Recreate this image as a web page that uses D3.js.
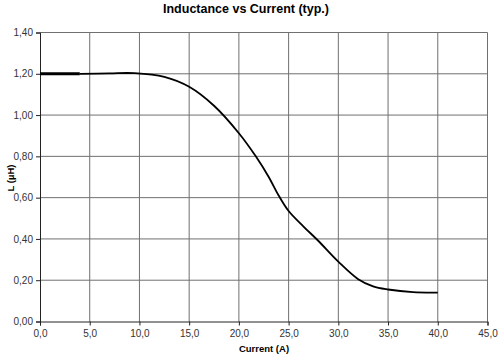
<!DOCTYPE html>
<html><head><meta charset="utf-8">
<script src="https://cdn.jsdelivr.net/npm/d3@7"></script>
<style>body{margin:0;background:#fff}svg{display:block;font-family:"Liberation Sans",Arial,sans-serif}</style>
</head><body><svg id="c" width="500" height="356"></svg>
<script>
const currentA = [4, 7, 9.5, 12.5, 15, 17.5, 20, 21.7, 23, 24, 25, 26.5, 28, 30, 32, 33.5, 35, 37.5, 40];
const inductance = [1.20, 1.202, 1.203, 1.185, 1.137, 1.045, 0.912, 0.80, 0.70, 0.61, 0.535, 0.46, 0.39, 0.29, 0.205, 0.17, 0.155, 0.142, 0.14];
const startCurrent = [0, 4];
const startInductance = [1.20, 1.20];
const xTicks = [0, 5, 10, 15, 20, 25, 30, 35, 40, 45];
const yTicks = [0, 0.2, 0.4, 0.6, 0.8, 1.0, 1.2, 1.4];

const svg = d3.select("#c");
const m = {l: 40, r: 487.5, t: 32.5, b: 321.5};
const x = d3.scaleLinear().domain([0, 45]).range([m.l, m.r]);
const y = d3.scaleLinear().domain([0, 1.4]).range([m.b, m.t]);
const fmt = d => d.toFixed(1).replace(".", ",");
const fmtY = d => d.toFixed(2).replace(".", ",");

// grid
svg.append("g").selectAll("line").data(xTicks.slice(1)).join("line")
  .attr("x1", d => x(d)).attr("x2", d => x(d)).attr("y1", m.t).attr("y2", m.b)
  .attr("stroke", "#707070").attr("stroke-width", 1);
svg.append("g").selectAll("line").data(yTicks.slice(1)).join("line")
  .attr("y1", d => y(d)).attr("y2", d => y(d)).attr("x1", m.l).attr("x2", m.r)
  .attr("stroke", "#707070").attr("stroke-width", 1);

// axes
const xa = svg.append("g").attr("transform", `translate(0,${m.b})`)
  .call(d3.axisBottom(x).tickValues(xTicks).tickFormat(fmt).tickSize(4).tickPadding(4));
const ya = svg.append("g").attr("transform", `translate(${m.l},0)`)
  .call(d3.axisLeft(y).tickValues(yTicks).tickFormat(fmtY).tickSize(4).tickPadding(3));
[xa, ya].forEach(g => {
  g.select(".domain").attr("stroke", "#222");
  g.selectAll(".tick line").attr("stroke", "#222");
  g.selectAll("text").attr("font-family", "Liberation Sans, Arial, sans-serif").attr("font-size", 10).attr("fill", "#333");
});

// curve
const line = d3.line().x(d => x(d[0])).y(d => y(d[1])).curve(d3.curveCatmullRom.alpha(0.5));
svg.append("path").datum(currentA.map((c, i) => [c, inductance[i]]))
  .attr("d", line).attr("fill", "none").attr("stroke", "#000").attr("stroke-width", 1.8);
svg.append("path").datum(startCurrent.map((c, i) => [c, startInductance[i]]))
  .attr("d", line).attr("fill", "none").attr("stroke", "#000").attr("stroke-width", 3);

// titles
svg.append("text").attr("x", 246).attr("y", 13).attr("text-anchor", "middle")
  .attr("font-size", 12.5).attr("font-weight", "bold").text("Inductance vs Current (typ.)");
svg.append("text").attr("x", 264).attr("y", 352).attr("text-anchor", "middle")
  .attr("font-size", 9.5).attr("font-weight", "bold").text("Current (A)");
svg.append("text").attr("transform", "translate(14,178) rotate(-90)").attr("text-anchor", "middle")
  .attr("font-size", 9.5).attr("font-weight", "bold").text("L (µH)");
</script></body></html>
